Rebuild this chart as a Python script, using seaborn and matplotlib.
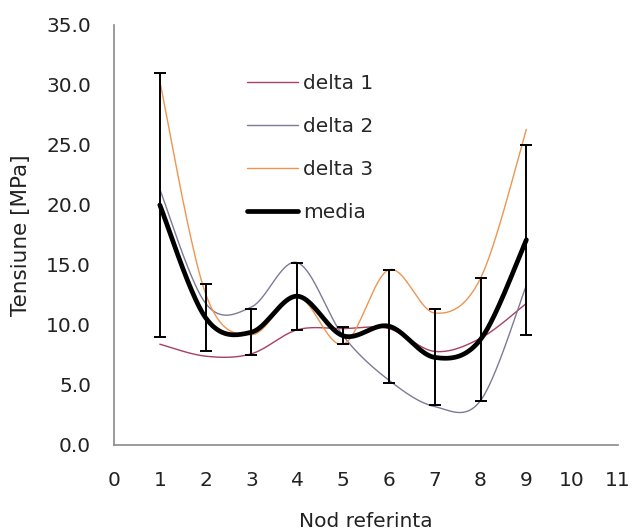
import numpy as np
import pandas as pd
import matplotlib
matplotlib.use("Agg")
import matplotlib.pyplot as plt
import seaborn as sns

# Stress per reference node for each delta case, plus the mean and its standard deviation
nodes = [1, 2, 3, 4, 5, 6, 7, 8, 9]
delta_1 = [8.4, 7.4, 7.6, 9.6, 9.7, 9.7, 7.8, 8.9, 11.8]
delta_2 = [21.3, 11.8, 11.5, 15.2, 9.1, 5.4, 3.2, 3.7, 13.3]
delta_3 = [30.3, 12.6, 9.2, 12.4, 8.4, 14.6, 11.0, 13.9, 26.3]
media = [20.0, 10.6, 9.4, 12.4, 9.1, 9.9, 7.3, 8.8, 17.1]
abatere = [11.0, 2.8, 1.9, 2.8, 0.7, 4.7, 4.0, 5.1, 7.9]

series_names = ["delta 1", "delta 2", "delta 3", "media"]
colors = ["#A8405F", "#7C7A98", "#EE9550", "#000000"]
widths = [1.0, 1.0, 1.0, 3.4]
x_ticks = list(range(0, 12))
y_ticks = [0, 5, 10, 15, 20, 25, 30, 35]


def smooth(xs, ys, n=40):
    """Catmull-Rom style smoothing (Bezier segments, 1/6 tangent handles)."""
    p = np.column_stack([xs, ys]).astype(float)
    pts = np.vstack([p[0], p, p[-1]])
    out = []
    t = np.linspace(0, 1, n)[:, None]
    for i in range(1, len(pts) - 2):
        p0, p1, p2, p3 = pts[i - 1], pts[i], pts[i + 1], pts[i + 2]
        c1 = p1 + (p2 - p0) / 6.0
        c2 = p2 - (p3 - p1) / 6.0
        seg = ((1 - t) ** 3) * p1 + 3 * ((1 - t) ** 2) * t * c1 + 3 * (1 - t) * t ** 2 * c2 + t ** 3 * p2
        out.append(seg if i == 1 else seg[1:])
    s = np.vstack(out)
    return s[:, 0], s[:, 1]


sns.set_theme(style="white")
plt.rcParams["font.family"] = ["DejaVu Sans"]
FS = 14.5

fig = plt.figure(figsize=(6.32, 5.30), dpi=100)
ax = fig.add_axes([114 / 632, 85 / 530, 504 / 632, 420 / 530])

for name, vals, col, lw in zip(series_names, [delta_1, delta_2, delta_3, media], colors, widths):
    sx, sy = smooth(nodes, vals)
    df = pd.DataFrame({"x": sx, "y": sy})
    sns.lineplot(data=df, x="x", y="y", sort=False, color=col, linewidth=lw,
                 label=name, ax=ax, solid_capstyle="round")

ax.errorbar(nodes, media, yerr=abatere, fmt="none", ecolor="black",
            elinewidth=1.4, capsize=4.3, capthick=1.4, zorder=5)

ax.set_xlim(0, 11)
ax.set_ylim(0, 35)
ax.set_xticks(x_ticks)
ax.set_yticks(y_ticks)
ax.set_yticklabels([f"{v:.1f}" for v in y_ticks])
ax.set_xlabel("Nod referinta", fontsize=FS, color="#222222", labelpad=16)
ax.set_ylabel("Tensiune [MPa]", fontsize=FS + 1, color="#222222", labelpad=11)

for side in ["top", "right"]:
    ax.spines[side].set_visible(False)
for side in ["left", "bottom"]:
    ax.spines[side].set_color("#8a8a8a")
    ax.spines[side].set_linewidth(1.2)
ax.tick_params(axis="both", which="major", direction="out", width=1.2,
               color="#8a8a8a", labelsize=FS, labelcolor="#222222")
ax.tick_params(axis="x", length=8.5, pad=10)
ax.tick_params(axis="y", length=6.5, pad=10)

handles, labels = ax.get_legend_handles_labels()
leg = ax.legend(handles, labels, loc="upper left", bbox_to_anchor=(247 / 632, 1 - 74 / 530),
                bbox_transform=fig.transFigure, frameon=False, fontsize=FS,
                handlelength=2.55, handletextpad=0.25, labelspacing=1.2, borderpad=0,
                borderaxespad=0)

fig.savefig("out.png", dpi=100)
